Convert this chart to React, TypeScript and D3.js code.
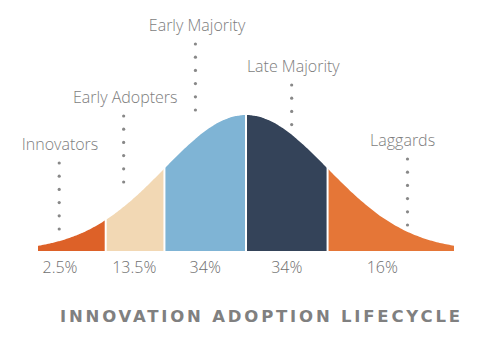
import React from 'react';
import * as d3 from 'd3';

// segment names, shares and boundaries (in standard deviations from the mean)
const segments = ["Innovators", "Early Adopters", "Early Majority", "Late Majority", "Laggards"];
const shares = ["2.5%", "13.5%", "34%", "34%", "16%"];
const bounds = [-2.55, -1.72, -1, 0, 1, 2.55];
const colors = ["#DD6128", "#F2D8B4", "#7FB4D5", "#344359", "#E57637"];

// where each callout sits (label center x in sd, label baseline, dot column x in sd, dot count)
const labelX = [-2.28, -1.48, -0.6, 0.58, 1.92];
const labelY = [150, 103, 31, 72, 146];
const dotX = [-2.29, -1.5, -0.62, 0.56, 1.98];
const dotCount = [6, 6, 6, 4, 6];
const shareX = [-2.28, -1.37, -0.5, 0.5, 1.67];

const title = "INNOVATION ADOPTION LIFECYCLE";

const W = 498, H = 351;

export default function App() {
  const x = d3.scaleLinear().domain([-2.55, 2.55]).range([38, 454]);
  const y = d3.scaleLinear().domain([0, 1]).range([251, 115]);
  const bell = (z: number) => Math.exp(-z * z / 2);

  const area = d3.area<number>()
    .x(z => x(z))
    .y0(y(0))
    .y1(z => y(bell(z)))
    .curve(d3.curveMonotoneX);

  const pieces = segments.map((s, i) => {
    const a = bounds[i], b = bounds[i + 1];
    const pts = d3.range(0, 41).map(k => a + (b - a) * k / 40);
    return { name: s, d: area(pts) || '', color: colors[i] };
  });

  const font = "'Open Sans', 'DejaVu Sans', sans-serif";

  return (
    <svg width={W} height={H} style={{ position: 'absolute', left: 0, top: 0, background: '#fff' }}>
      {pieces.map(p => <path key={p.name} d={p.d} fill={p.color} />)}
      {bounds.slice(1, -1).map((b, i) => (
        <line key={i} x1={x(b)} x2={x(b)} y1={y(0) + 1} y2={y(bell(b)) - 2} stroke="#fff" strokeWidth={2} />
      ))}
      {segments.map((s, i) => (
        <g key={s}>
          <text x={x(labelX[i])} y={labelY[i]} textAnchor="middle" fontFamily={font}
            fontSize={16} fontWeight={300} fill="#7d7d7d">{s}</text>
          {d3.range(dotCount[i]).map(k => (
            <circle key={k} cx={x(dotX[i])} cy={labelY[i] + 13 + k * 13.2} r={1.6} fill="#888" />
          ))}
          <text x={x(shareX[i])} y={273} textAnchor="middle" fontFamily={font}
            fontSize={16} fontWeight={300} fill="#6f6f6f">{shares[i]}</text>
        </g>
      ))}
      <text x={60} y={322} fontFamily="'DejaVu Sans', sans-serif" fontSize={16.5} fontWeight={700} fill="#808080"
        textLength={400} lengthAdjust="spacing">{title}</text>
    </svg>
  );
}
